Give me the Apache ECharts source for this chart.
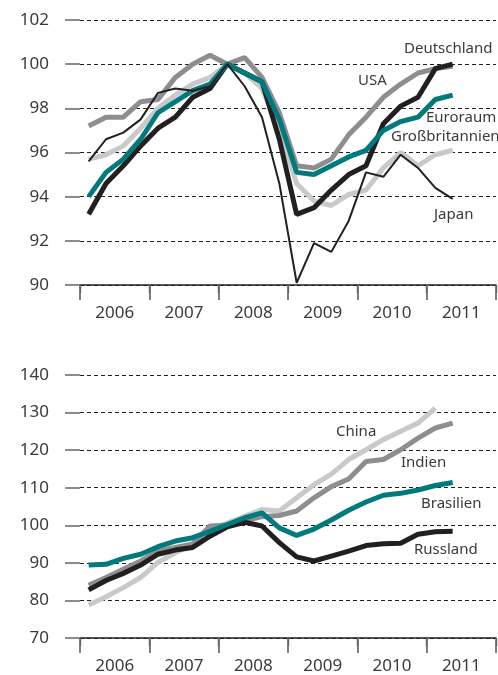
<!DOCTYPE html>
<html>
<head>
<meta charset="utf-8">
<script src="https://cdn.jsdelivr.net/npm/echarts@6/dist/echarts.min.js"></script>
<style>
html,body{margin:0;padding:0;background:#fff;}
#c{width:498px;height:675px;}
</style>
</head>
<body>
<div id="c"></div>
<script>
// ---- Data ----
const years = ['2006','2007','2008','2009','2010','2011'];
const quarterNames = ['Q1','Q2','Q3','Q4'];
const topTicks = {min: 90, max: 102, interval: 2};
const bottomTicks = {min: 70, max: 140, interval: 10};

// Top panel (index, 2008Q1 = 100), quarterly 2006Q1..2011Q2
const deutschland = [93.2, 94.6, 95.4, 96.3, 97.1, 97.6, 98.5, 98.9, 100.0, 99.6, 99.2, 96.6, 93.2, 93.5, 94.3, 95.0, 95.4, 97.3, 98.1, 98.5, 99.8, 100.0];
const usa         = [97.2, 97.6, 97.6, 98.3, 98.4, 99.4, 100.0, 100.4, 100.0, 100.3, 99.4, 97.8, 95.4, 95.3, 95.7, 96.8, 97.6, 98.5, 99.1, 99.6, 99.8, 99.9];
const euroraum    = [94.0, 95.1, 95.7, 96.6, 97.8, 98.3, 98.8, 99.1, 100.0, 99.6, 99.2, 97.5, 95.1, 95.0, 95.4, 95.8, 96.1, 97.0, 97.4, 97.6, 98.4, 98.6];
const grossbrit   = [95.7, 95.9, 96.3, 97.1, 98.0, 98.6, 99.1, 99.4, 100.0, 99.6, 98.9, 97.0, 94.6, 93.8, 93.6, 94.1, 94.3, 95.3, 96.0, 95.4, 95.9, 96.1];
const japan       = [95.6, 96.6, 96.9, 97.5, 98.7, 98.9, 98.8, 99.0, 100.0, 99.0, 97.6, 94.6, 90.1, 91.9, 91.5, 92.9, 95.1, 94.9, 95.9, 95.3, 94.4, 93.9];

// Bottom panel
const china     = [78.8, 81.0, 83.4, 86.1, 90.1, 92.7, 94.9, 98.4, 100.6, 102.4, 104.2, 103.8, 107.3, 110.8, 113.6, 117.5, 120.1, 122.8, 125.0, 127.2, 131.2];
const indien    = [84.0, 86.1, 88.3, 90.5, 93.2, 94.1, 95.0, 99.8, 100.1, 101.2, 102.3, 102.6, 103.8, 107.3, 110.3, 112.3, 117.0, 117.5, 120.1, 123.2, 125.9, 127.2];
const brasilien = [89.4, 89.6, 91.2, 92.3, 94.3, 95.8, 96.7, 98.4, 100.2, 102.0, 103.3, 99.3, 97.3, 99.0, 101.4, 104.0, 106.2, 108.0, 108.5, 109.4, 110.6, 111.4];
const russland  = [82.8, 85.3, 87.2, 89.4, 92.3, 93.4, 94.1, 97.1, 99.6, 100.8, 99.8, 95.4, 91.6, 90.5, 91.8, 93.1, 94.6, 95.1, 95.2, 97.6, 98.3, 98.4];

const quarters = years.flatMap(y => quarterNames.map(q => y + ' ' + q));

// ---- Styles ----
const C_BLACK = '#231f20', C_TEAL = '#007a7d', C_GRAY = '#8e8e90', C_LIGHT = '#c9c9c9';
const FONT = '"Noto Sans", "DejaVu Sans", sans-serif';
const TXT = '#3a3a3a';

function xAxes(gridIndex) {
  return [
    { type: 'category', gridIndex, position: 'bottom', data: quarters, boundaryGap: true,
      axisLine: { show: true, onZero: false, lineStyle: { color: C_BLACK, width: 1.5 } },
      axisTick: { show: true, length: 8, lineStyle: { color: C_BLACK, width: 1.3 } },
      axisLabel: { show: false }, splitLine: { show: false } },
    { type: 'category', gridIndex, position: 'bottom', data: years, boundaryGap: true,
      axisLine: { show: false, onZero: false },
      axisTick: { show: true, length: 15, lineStyle: { color: '#6f6f6f', width: 1.8 } },
      axisLabel: { show: true, fontSize: 17, fontFamily: FONT, color: TXT, margin: 20 },
      splitLine: { show: false } }
  ];
}
function yAxis(gridIndex, t) {
  return { type: 'value', gridIndex, min: t.min, max: t.max, interval: t.interval,
    axisLine: { show: false },
    axisTick: { show: true, inside: false, length: 15, lineStyle: { color: '#7f7f7f', width: 1.8 } },
    axisLabel: { fontSize: 17, fontFamily: FONT, color: TXT, margin: 31 },
    splitLine: { show: true, lineStyle: { color: C_BLACK, width: 1, type: [4, 3] } } };
}
function line(name, data, color, width, xi, yi, z) {
  return { name, type: 'line', data, xAxisIndex: xi, yAxisIndex: yi, symbol: 'none',
    lineStyle: { color, width }, z, animation: false, silent: true };
}
function label(text, x, y) {
  return { type: 'text', x, y, style: { text, font: '15px ' + FONT, fill: TXT, verticalAlign: 'middle' } };
}

const option = {
  backgroundColor: '#fff',
  animation: false,
  grid: [
    { left: 80, right: 2, top: 20, height: 265 },
    { left: 80, right: 2, top: 375, height: 264 }
  ],
  xAxis: [...xAxes(0), ...xAxes(1)],
  yAxis: [yAxis(0, topTicks), yAxis(1, bottomTicks)],
  series: [
    line('Großbritannien', grossbrit, C_LIGHT, 5, 0, 0, 2),
    line('USA', usa, C_GRAY, 5, 0, 0, 3),
    line('Deutschland', deutschland, C_BLACK, 5, 0, 0, 4),
    line('Euroraum', euroraum, C_TEAL, 5, 0, 0, 5),
    line('Japan', japan, C_BLACK, 2, 0, 0, 6),
    line('China', china, C_LIGHT, 5, 2, 1, 2),
    line('Indien', indien, C_GRAY, 5, 2, 1, 3),
    line('Russland', russland, C_BLACK, 5, 2, 1, 4),
    line('Brasilien', brasilien, C_TEAL, 5, 2, 1, 5)
  ],
  graphic: [
    label('Deutschland', 404, 49),
    label('USA', 358, 81),
    label('Euroraum', 426, 118),
    label('Großbritannien', 391, 137),
    label('Japan', 434, 215),
    label('China', 336, 432),
    label('Indien', 401, 463),
    label('Brasilien', 421, 504),
    label('Russland', 414, 550)
  ]
};
const chart = echarts.init(document.getElementById('c'), null, { renderer: 'canvas' });
chart.setOption(option);
</script>
</body>
</html>
